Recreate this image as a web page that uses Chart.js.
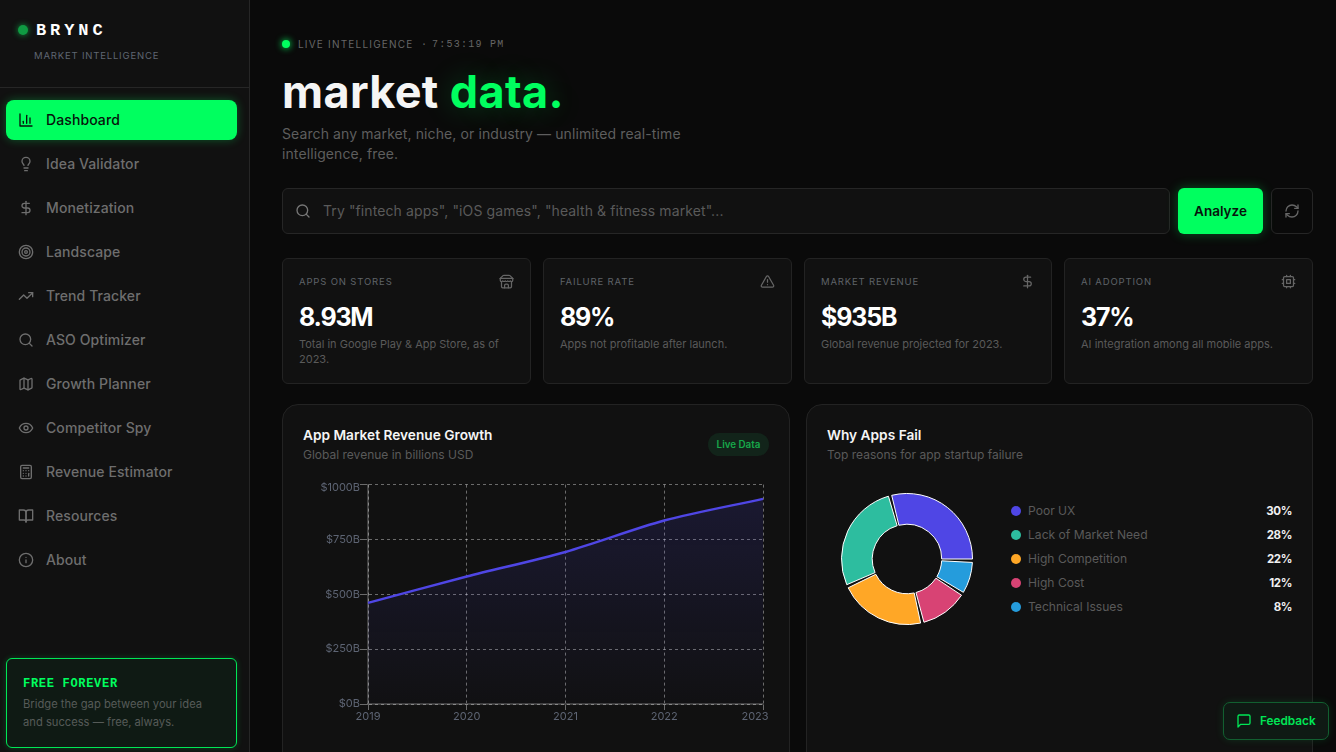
<!DOCTYPE html>
<html>
<head>
<meta charset="utf-8">
<title>BRYNC</title>
<script src="https://cdn.jsdelivr.net/npm/chart.js@4"></script>
<style>
* { box-sizing: border-box; margin: 0; padding: 0; }
html, body { width: 1336px; height: 752px; overflow: hidden; background: #0a0a0a; font-family: Inter, sans-serif; color: #f5f5f5; }
svg.ic { fill: none; stroke: currentColor; stroke-width: 2; stroke-linecap: round; stroke-linejoin: round; display: block; }
.mono { font-family: "Liberation Mono", monospace; }

#sidebar { position: absolute; left: 0; top: 0; width: 250px; height: 752px; background: #111; border-right: 1px solid #262626; }
#logoDot { position: absolute; left: 18px; top: 25px; width: 10px; height: 10px; border-radius: 50%; background: #0f9a42; box-shadow: 0 0 6px #0f9a42; }
#logoName { position: absolute; left: 36px; top: 21px; font: bold 17px/20px "Liberation Mono", monospace; letter-spacing: 3.9px; color: #fff; }
#logoSub { position: absolute; left: 34px; top: 49px; font-size: 9.5px; line-height: 14px; letter-spacing: .82px; color: #5f6672; }
#sideLine { position: absolute; left: 0; top: 87px; width: 249px; height: 1px; background: #262626; }
.nav { position: absolute; left: 6px; width: 231px; height: 40px; border-radius: 8px; color: #6e6e6e; font-size: 14px; letter-spacing: .1px; font-weight: 500; line-height: 40px; padding-left: 40px; }
.nav svg { position: absolute; left: 12px; top: 12px; }
.nav.on { background: #00ff5f; color: #07140c; box-shadow: 0 0 10px rgba(0,255,95,.3); }
#freeBox { position: absolute; left: 6px; top: 658px; width: 231px; height: 90px; border: 1px solid #00e656; border-radius: 6px; background: #0f1a14; box-shadow: 0 0 6px rgba(0,255,95,.2); }
#freeBox b { position: absolute; left: 16px; top: 18px; font: bold 12px/14px "Liberation Mono", monospace; letter-spacing: .7px; color: #00ff5f; }
#freeBox p { position: absolute; left: 16px; top: 36px; width: 195px; font-size: 11.2px; line-height: 18px; color: #565b58; }

#statusDot { position: absolute; left: 282px; top: 40px; width: 8px; height: 8px; border-radius: 50%; background: #00ff5f; box-shadow: 0 0 7px #00ff5f; }
#status { position: absolute; left: 298px; top: 37px; line-height: 14px; font-size: 10px; letter-spacing: 1.2px; color: #666; white-space: nowrap; }
#status .mono { position: absolute; top: 1px; font-size: 10px; letter-spacing: 1.25px; }
#heading { position: absolute; left: 282px; top: 64px; font-size: 45px; line-height: 56px; font-weight: 700; letter-spacing: .35px; color: #f5f5f5; white-space: nowrap; }
#heading span { color: #00ff5f; text-shadow: 0 0 28px rgba(0,255,95,.25); }
#sub { position: absolute; left: 282px; top: 124px; width: 430px; font-size: 14px; letter-spacing: .1px; line-height: 20px; color: #5e5e5e; }

#search { position: absolute; left: 282px; top: 188px; width: 888px; height: 46px; background: #111; border: 1px solid #262626; border-radius: 6px; font-size: 14px; letter-spacing: .1px; line-height: 44px; padding-left: 40px; color: #5a5a5a; }
#search svg { position: absolute; left: 12px; top: 14px; color: #777; }
#analyze { position: absolute; left: 1178px; top: 188px; width: 85px; height: 46px; background: #00ff5f; border-radius: 6px; color: #07140c; font-size: 13.5px; font-weight: 600; line-height: 46px; text-align: center; box-shadow: 0 0 12px rgba(0,255,95,.3); }
#refresh { position: absolute; left: 1271px; top: 188px; width: 42px; height: 46px; border: 1px solid #262626; border-radius: 6px; color: #666; }
#refresh svg { position: absolute; left: 12px; top: 14px; }

.stat { position: absolute; top: 258px; height: 126px; background: #111; border: 1px solid #232323; border-radius: 6px; }
.stat .lab { position: absolute; left: 16px; top: 16px; font-size: 9.5px; line-height: 14px; letter-spacing: .85px; color: #5f6368; white-space: nowrap; }
.stat .val { position: absolute; left: 16px; top: 42px; font-size: 25px; line-height: 32px; font-weight: 700; letter-spacing: -1.2px; color: #fff; }
.stat .note { position: absolute; left: 16px; top: 78px; width: 212px; font-size: 11px; line-height: 15px; color: #5a5a5a; }
.stat svg { position: absolute; right: 16px; top: 15px; color: #666; }

.card { position: absolute; top: 404px; height: 370px; background: #111; border: 1px solid #232323; border-radius: 16px; }
.card h3 { position: absolute; left: 20px; top: 21px; font-size: 13.7px; line-height: 18px; font-weight: 600; color: #f5f5f5; white-space: nowrap; }
.card .cap { position: absolute; left: 20px; top: 42px; font-size: 12px; line-height: 16px; color: #5a5a5a; white-space: nowrap; }
#badge { position: absolute; left: 425px; top: 28px; width: 61px; height: 23px; border-radius: 12px; background: #12241a; color: #17a84a; font-size: 9.8px; font-weight: 600; line-height: 23px; text-align: center; white-space: nowrap; }
#lineBox { position: absolute; left: 303px; top: 478px; width: 487px; height: 248px; }
#pieBox { position: absolute; left: 837px; top: 489px; width: 140px; height: 140px; }
#legend { position: absolute; left: 1011px; top: 499px; width: 281px; }
.leg { position: relative; height: 24px; line-height: 24px; font-size: 12.1px; color: #5a5a5a; padding-left: 17px; }
.leg i { position: absolute; left: 0; top: 7px; width: 10px; height: 10px; border-radius: 50%; }
.leg b { position: absolute; right: 0; top: 0; font-weight: 700; font-size: 11.5px; letter-spacing: -.4px; color: #f0f0f0; }
#feedback { position: absolute; left: 1223px; top: 702px; width: 106px; height: 38px; background: #0f1a14; border: 1px solid #125f30; border-radius: 7px; color: #00e656; font-size: 11.8px; font-weight: 600; line-height: 36px; padding-left: 36px; box-shadow: 0 0 8px rgba(0,255,95,.12); }
#feedback svg { position: absolute; left: 12px; top: 10px; }
</style>
</head>
<body>
<div id="sidebar">
  <div id="logoDot"></div>
  <div id="logoName">BRYNC</div>
  <div id="logoSub">MARKET INTELLIGENCE</div>
  <div id="sideLine"></div>
  <div id="navList"></div>
  <div id="freeBox"><b>FREE FOREVER</b><p>Bridge the gap between your idea and success — free, always.</p></div>
</div>

<div id="statusDot"></div>
<div id="status">LIVE INTELLIGENCE<span class="mono" style="left:123px">·</span><span class="mono" style="left:134px">7:53:19 PM</span></div>
<div id="heading">market <span>data.</span></div>
<div id="sub">Search any market, niche, or industry — unlimited real-time intelligence, free.</div>

<div id="search"><span id="searchIcon"></span>Try "fintech apps", "iOS games", "health &amp; fitness market"...</div>
<div id="analyze">Analyze</div>
<div id="refresh"></div>

<div id="stats"></div>

<div class="card" style="left:282px;width:508px">
  <h3>App Market Revenue Growth</h3>
  <div class="cap">Global revenue in billions USD</div>
  <div id="badge">Live Data</div>
</div>
<div id="lineBox"><canvas id="lineChart"></canvas></div>

<div class="card" style="left:806px;width:507px">
  <h3>Why Apps Fail</h3>
  <div class="cap">Top reasons for app startup failure</div>
</div>
<div id="pieBox"><canvas id="pieChart"></canvas></div>
<div id="legend"></div>

<div id="feedback"></div>

<script>
"use strict";

// chart values
const years = ['2019', '2020', '2021', '2022', '2023'];
const revenue = [461, 581, 693, 836, 935];
const reasons = ['Poor UX', 'Lack of Market Need', 'High Competition', 'High Cost', 'Technical Issues'];
const reasonShares = [30, 28, 22, 12, 8];
const reasonColors = ['#4f46e5', '#2dbd9f', '#ffa726', '#d84374', '#259cdc'];

// page text
const navLabels = ['Dashboard', 'Idea Validator', 'Monetization', 'Landscape', 'Trend Tracker', 'ASO Optimizer', 'Growth Planner', 'Competitor Spy', 'Revenue Estimator', 'Resources', 'About'];
const navIcons = ['chart', 'bulb', 'dollar', 'target', 'trend', 'search', 'map', 'eye', 'calc', 'book', 'info'];
const statLabels = ['APPS ON STORES', 'FAILURE RATE', 'MARKET REVENUE', 'AI ADOPTION'];
const statValues = ['8.93M', '89%', '$935B', '37%'];
const statNotes = ['Total in Google Play & App Store, as of 2023.', 'Apps not profitable after launch.', 'Global revenue projected for 2023.', 'AI integration among all mobile apps.'];
const statIcons = ['store', 'alert', 'dollar', 'cpu'];
const statLeft = [282, 543, 804, 1064];

const icons = {
    chart: '<path d="M3 3v18h18"/><path d="M18 17V9"/><path d="M13 17V5"/><path d="M8 17v-3"/>',
    bulb: '<path d="M15 14c.2-1 .7-1.7 1.5-2.5 1-.9 1.5-2.2 1.5-3.5A6 6 0 0 0 6 8c0 1 .2 2.2 1.5 3.5.7.7 1.3 1.5 1.5 2.5"/><path d="M9 18h6"/><path d="M10 22h4"/>',
    dollar: '<path d="M12 2v20"/><path d="M17 5H9.5a3.5 3.5 0 0 0 0 7h5a3.5 3.5 0 0 1 0 7H6"/>',
    target: '<circle cx="12" cy="12" r="10"/><circle cx="12" cy="12" r="6"/><circle cx="12" cy="12" r="2"/>',
    trend: '<path d="M22 7l-8.5 8.5-5-5L2 17"/><path d="M16 7h6v6"/>',
    search: '<circle cx="11" cy="11" r="8"/><path d="m21 21-4.3-4.3"/>',
    map: '<path d="M14.106 5.553a2 2 0 0 0 1.788 0l3.659-1.83A1 1 0 0 1 21 4.619v12.764a1 1 0 0 1-.553.894l-4.553 2.277a2 2 0 0 1-1.788 0l-4.212-2.106a2 2 0 0 0-1.788 0l-3.659 1.83A1 1 0 0 1 3 19.381V6.618a1 1 0 0 1 .553-.894l4.553-2.277a2 2 0 0 1 1.788 0z"/><path d="M15 5.764v15"/><path d="M9 3.236v15"/>',
    eye: '<path d="M2 12s3-7 10-7 10 7 10 7-3 7-10 7-10-7-10-7Z"/><circle cx="12" cy="12" r="3"/>',
    calc: '<rect x="4" y="2" width="16" height="20" rx="2"/><path d="M8 6h8"/><path d="M16 14v4"/><path d="M16 10h.01"/><path d="M12 10h.01"/><path d="M8 10h.01"/><path d="M12 14h.01"/><path d="M8 14h.01"/><path d="M12 18h.01"/><path d="M8 18h.01"/>',
    book: '<path d="M2 3h6a4 4 0 0 1 4 4v14a3 3 0 0 0-3-3H2z"/><path d="M22 3h-6a4 4 0 0 0-4 4v14a3 3 0 0 1 3-3h7z"/>',
    info: '<circle cx="12" cy="12" r="10"/><path d="M12 16v-4"/><path d="M12 8h.01"/>',
    store: '<path d="m2 7 4.41-4.41A2 2 0 0 1 7.83 2h8.34a2 2 0 0 1 1.42.59L22 7"/><path d="M4 12v8a2 2 0 0 0 2 2h12a2 2 0 0 0 2-2v-8"/><path d="M15 22v-4a2 2 0 0 0-2-2h-2a2 2 0 0 0-2 2v4"/><path d="M2 7h20"/><path d="M22 7v3a2 2 0 0 1-2 2 2.7 2.7 0 0 1-1.59-.63.7.7 0 0 0-.82 0A2.7 2.7 0 0 1 16 12a2.7 2.7 0 0 1-1.59-.63.7.7 0 0 0-.82 0A2.7 2.7 0 0 1 12 12a2.7 2.7 0 0 1-1.59-.63.7.7 0 0 0-.82 0A2.7 2.7 0 0 1 8 12a2.7 2.7 0 0 1-1.59-.63.7.7 0 0 0-.82 0A2.7 2.7 0 0 1 4 12a2 2 0 0 1-2-2V7"/>',
    alert: '<path d="m21.73 18-8-14a2 2 0 0 0-3.48 0l-8 14A2 2 0 0 0 4 21h16a2 2 0 0 0 1.73-3"/><path d="M12 9v4"/><path d="M12 17h.01"/>',
    cpu: '<rect x="4" y="4" width="16" height="16" rx="2"/><rect x="9" y="9" width="6" height="6"/><path d="M15 2v2M15 20v2M2 15h2M2 9h2M20 15h2M20 9h2M9 2v2M9 20v2"/>',
    refresh: '<path d="M3 12a9 9 0 0 1 9-9 9.75 9.75 0 0 1 6.74 2.74L21 8"/><path d="M21 3v5h-5"/><path d="M21 12a9 9 0 0 1-9 9 9.75 9.75 0 0 1-6.74-2.74L3 16"/><path d="M8 16H3v5"/>',
    message: '<path d="M21 15a2 2 0 0 1-2 2H7l-4 4V5a2 2 0 0 1 2-2h14a2 2 0 0 1 2 2z"/>'
};
const icon = (name, size) => `<svg class="ic" width="${size}" height="${size}" viewBox="0 0 24 24">${icons[name]}</svg>`;

document.getElementById('navList').innerHTML = navLabels.map((label, i) =>
    `<div class="nav${i === 0 ? ' on' : ''}" style="top:${100 + i * 44}px">${icon(navIcons[i], 16)}${label}</div>`).join('');
document.getElementById('stats').innerHTML = statLabels.map((label, i) =>
    `<div class="stat" style="left:${statLeft[i]}px;width:${i === 2 ? 248 : 249}px"><div class="lab">${label}</div>${icon(statIcons[i], 15)}<div class="val">${statValues[i]}</div><div class="note">${statNotes[i].replace('&', '&amp;')}</div></div>`).join('');
document.getElementById('legend').innerHTML = reasons.map((label, i) =>
    `<div class="leg"><i style="background:${reasonColors[i]}"></i>${label}<b>${reasonShares[i]}%</b></div>`).join('');
document.getElementById('searchIcon').innerHTML = icon('search', 16);
document.getElementById('refresh').innerHTML = icon('refresh', 16);
document.getElementById('feedback').innerHTML = icon('message', 16) + 'Feedback';

Chart.defaults.animation = false;
Chart.defaults.font.family = 'Inter, sans-serif';

// last x label stays inside the plot box, top y label hangs under its line
const nudgeLabels = {
    id: 'nudgeLabels',
    beforeDraw(chart) {
        const xItems = chart.scales.x.getLabelItems(chart.chartArea);
        const yItems = chart.scales.y.getLabelItems(chart.chartArea);
        xItems[xItems.length - 1].options.translation[0] = chart.scales.x.right - 8;
        yItems[yItems.length - 1].options.translation[1] = chart.scales.y.top + 3;
    }
};

const gridLine = 'rgba(255,255,255,0.38)';
const axisLine = 'rgba(255,255,255,0.2)';
const tickText = '#5d6473';

const revenueChart = new Chart(document.getElementById('lineChart').getContext('2d'), {
    type: 'line',
    data: {
        labels: years,
        datasets: [{
            data: revenue,
            borderColor: '#4f46e5',
            borderWidth: 2.5,
            tension: 0.3,
            pointRadius: 0,
            fill: true,
            backgroundColor: (context) => {
                const area = context.chart.chartArea;
                if (!area) return 'transparent';
                const fade = context.chart.ctx.createLinearGradient(0, area.top, 0, area.bottom);
                fade.addColorStop(0, 'rgba(79,70,229,0.16)');
                fade.addColorStop(1, 'rgba(79,70,229,0.01)');
                return fade;
            }
        }]
    },
    options: {
        responsive: true,
        maintainAspectRatio: false,
        layout: { padding: { top: 6, right: 27, bottom: 0 } },
        plugins: { legend: { display: false }, tooltip: { enabled: false } },
        scales: {
            x: {
                afterFit: (scale) => { scale.height = 22; },
                border: { color: axisLine, width: 2, dash: [3, 3] },
                grid: { color: gridLine, tickColor: gridLine, tickLength: 6 },
                ticks: { color: tickText, font: { size: 11 }, padding: 0, maxRotation: 0 }
            },
            y: {
                min: 0,
                max: 1000,
                afterFit: (scale) => { scale.width = 65; },
                border: { color: axisLine, width: 2, dash: [3, 3] },
                grid: { color: gridLine, tickColor: gridLine, tickLength: 8 },
                ticks: { stepSize: 250, color: tickText, font: { size: 11 }, padding: 0, callback: (v) => `$${v}B` }
            }
        }
    },
    plugins: [nudgeLabels]
});

// drawn clockwise from 3 o'clock, so the slices run opposite to the legend;
// a 3 degree empty slice sits before each share and the shares fill what is left
const padAngle = 3;
const sharePerDegree = (360 - padAngle * reasons.length) / 100;
const pieLabels = [];
const pieValues = [];
const pieColors = [];
const pieBorders = [];
for (let i = reasons.length - 1; i >= 0; i--) {
    pieLabels.push('', reasons[i]);
    pieValues.push(padAngle, reasonShares[i] * sharePerDegree);
    pieColors.push('transparent', reasonColors[i]);
    pieBorders.push(0, 1);
}

const failChart = new Chart(document.getElementById('pieChart').getContext('2d'), {
    type: 'doughnut',
    data: {
        labels: pieLabels,
        datasets: [{
            data: pieValues,
            backgroundColor: pieColors,
            borderColor: '#fff',
            borderWidth: pieBorders
        }]
    },
    options: {
        responsive: true,
        maintainAspectRatio: false,
        rotation: 90,
        cutout: '53%',
        layout: { padding: 4 },
        plugins: { legend: { display: false }, tooltip: { enabled: false } }
    }
});
</script>
</body>
</html>
